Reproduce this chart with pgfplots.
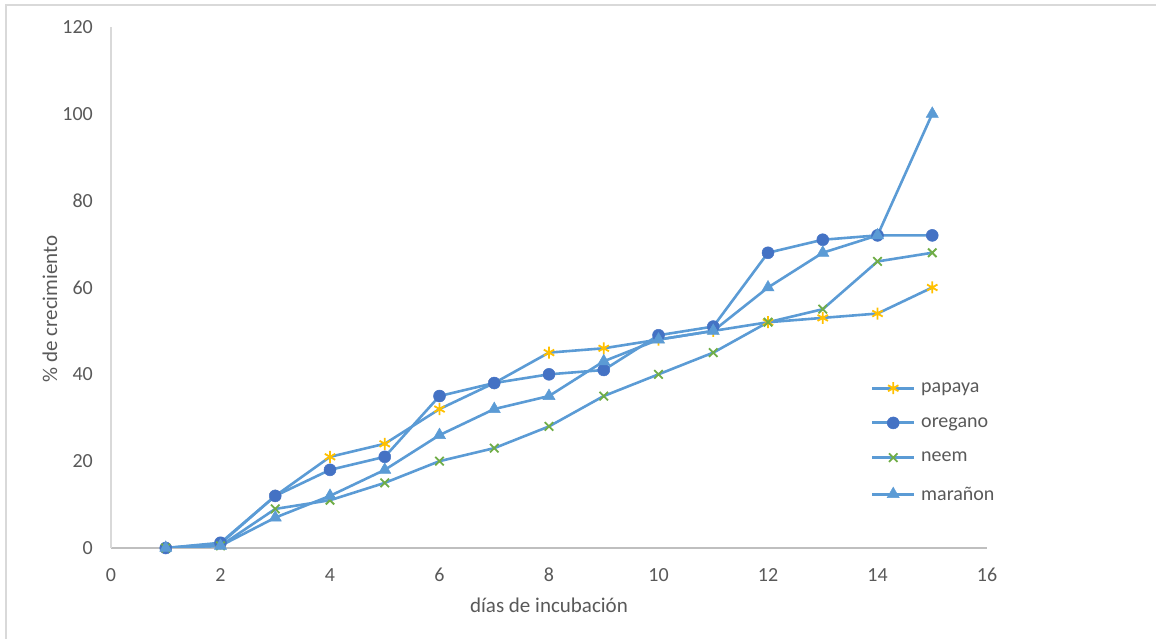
\documentclass[border=0pt]{standalone}
\usepackage{fontspec}
\setmainfont{Carlito}
\usepackage{pgfplots}
\pgfplotsset{compat=1.18}
\definecolor{lineblue}{HTML}{5B9BD5}
\definecolor{darkblue}{HTML}{4472C4}
\definecolor{gold}{HTML}{FFC000}
\definecolor{green}{HTML}{70AD47}
\definecolor{framegray}{HTML}{D9D9D9}
\definecolor{xaxisgray}{HTML}{BFBFBF}
\definecolor{textgray}{HTML}{595959}
\begin{document}
\begin{tikzpicture}[x=1pt,y=1pt]
\useasboundingbox (-111,-91) rectangle (1045,548);
\draw[framegray, line width=1.5pt] (-105,-100) -- (-105,543) -- (1050,543);
\begin{axis}[
  at={(0,0)}, anchor=south west,
  scale only axis, width=876pt, height=521pt,
  xmin=0, xmax=16, ymin=0, ymax=120,
  xtick={0,2,...,16}, ytick={0,20,...,120},
  axis x line=bottom, axis y line=left,
  x axis line style={-, draw=xaxisgray, line width=1.2pt},
  y axis line style={-, draw=framegray, line width=1.2pt},
  major tick length=0pt, tick style={draw=none},
  /pgf/number format/assume math mode=true,
  tick label style={font=\fontsize{20}{22}\selectfont, text=textgray, inner sep=0pt},
  xticklabel shift=20pt, yticklabel shift=18pt,
  xlabel={días de incubación}, ylabel={\% de crecimiento},
  label style={font=\fontsize{21}{24}\selectfont, text=textgray, inner sep=0pt},
  xlabel style={at={(rel axis cs:0.5,0)}, anchor=center, yshift=-57pt},
  ylabel style={at={(axis description cs:-0.0696,0.459)}, anchor=center},
  every axis plot/.append style={line width=2.6pt, draw=lineblue},
  legend style={at={(axis cs:13.9,38.6)}, anchor=north west, draw=none, fill=none,
    font=\fontsize{20}{22}\selectfont, text=textgray, row sep=19.5pt, inner sep=0pt,
    /tikz/every odd column/.append style={column sep=5pt}},
  legend cell align=left,
  legend image code/.code={%
    \path[fill=lineblue, draw=none] (0pt,-1.5pt) rectangle (42pt,1.5pt);
    \path plot coordinates {(21pt,0pt)};},
]
\addplot[lineblue, mark=asterisk, mark size=6pt, mark options={draw=gold, line width=1.8pt}] coordinates {
(1,0) (2,1) (3,12) (4,21) (5,24) (6,32) (7,38) (8,45) (9,46) (10,48) (11,50) (12,52) (13,53) (14,54) (15,60)};
\addlegendentry{papaya}
\addplot[lineblue, mark=*, mark size=6pt, mark options={draw=darkblue, fill=darkblue, line width=0.5pt}] coordinates {
(1,0) (2,1.2) (3,12) (4,18) (5,21) (6,35) (7,38) (8,40) (9,41) (10,49) (11,51) (12,68) (13,71) (14,72) (15,72)};
\addlegendentry{oregano}
\addplot[lineblue, mark=x, mark size=6pt, mark options={draw=green, line width=1.8pt}] coordinates {
(1,0) (2,0.5) (3,9) (4,11) (5,15) (6,20) (7,23) (8,28) (9,35) (10,40) (11,45) (12,52) (13,55) (14,66) (15,68)};
\addlegendentry{neem}
\addplot[lineblue, mark=triangle*, mark size=7pt, mark options={draw=lineblue, fill=lineblue, line width=0.5pt}] coordinates {
(1,0) (2,0.5) (3,7) (4,12) (5,18) (6,26) (7,32) (8,35) (9,43) (10,48) (11,50) (12,60) (13,68) (14,72) (15,100)};
\addlegendentry{marañon}
\end{axis}
\end{tikzpicture}
\end{document}
